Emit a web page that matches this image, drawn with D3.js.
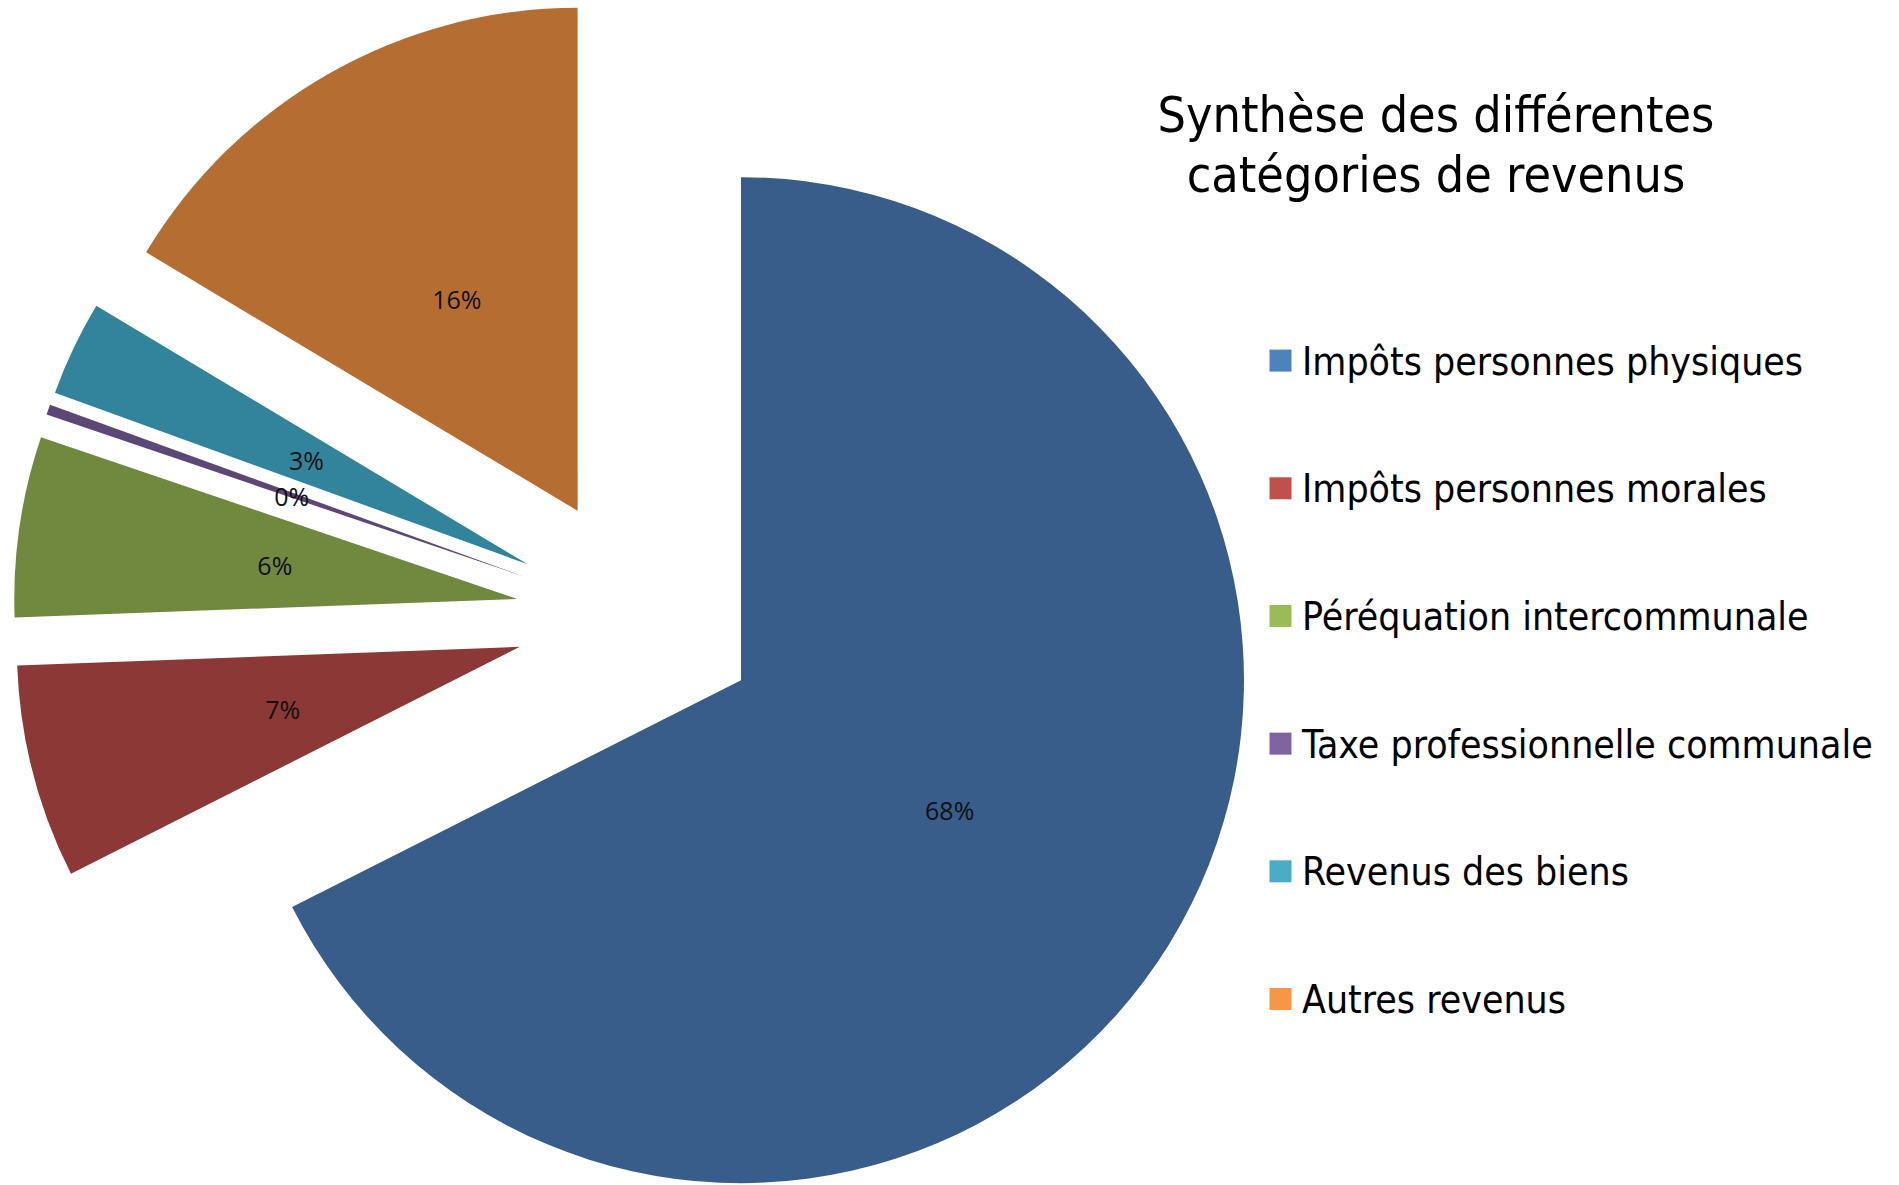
<!DOCTYPE html>
<html>
<head>
<meta charset="utf-8">
<script src="https://cdn.jsdelivr.net/npm/d3@7"></script>
<style>
  html, body { margin: 0; padding: 0; background: #ffffff; }
  svg { display: block; }
</style>
</head>
<body>
<svg id="chart" width="1899" height="1185"></svg>
<script>
// ---- data ----
const categories = [
  "Impôts personnes physiques",
  "Impôts personnes morales",
  "Péréquation intercommunale",
  "Taxe professionnelle communale",
  "Revenus des biens",
  "Autres revenus"
];
const values = [67.55, 6.86, 5.80, 0.33, 3.05, 16.41]; // percent shares
const titleLines = ["Synthèse des différentes", "catégories de revenus"];
const sliceColors = ["#385D8A", "#8C3836", "#71893F", "#5C4776", "#31849B", "#B66D31"];
const legendColors = ["#4F81BD", "#C0504D", "#9BBB59", "#8064A2", "#4BACC6", "#F79646"];

// ---- layout ----
const W = 1899, H = 1185;
const cx = 637.5, cy = 616.5;
const R = 503;
const explode = 121.5;
const labelR = 245;
const titleFont = "'DejaVu Sans Condensed', 'DejaVu Sans', sans-serif";

const svg = d3.select("#chart");
svg.append("rect").attr("width", W).attr("height", H).attr("fill", "#ffffff");

const total = d3.sum(values);
const pct = d3.format(".0%");

const pie = d3.pie().sort(null).value(d => d);
const arcs = pie(values);
const arc = d3.arc().innerRadius(0).outerRadius(R);
const labelArc = d3.arc().innerRadius(labelR).outerRadius(labelR);

const g = svg.append("g").attr("transform", `translate(${cx},${cy})`);

const slices = g.selectAll("g.slice")
  .data(arcs)
  .enter().append("g")
  .attr("class", "slice")
  .attr("transform", d => {
    const mid = (d.startAngle + d.endAngle) / 2;
    return `translate(${Math.sin(mid) * explode},${-Math.cos(mid) * explode})`;
  });

slices.append("path")
  .attr("d", arc)
  .attr("fill", (d, i) => sliceColors[i]);

slices.append("text")
  .attr("transform", d => `translate(${labelArc.centroid(d)})`)
  .attr("text-anchor", "middle")
  .attr("dy", "0.45em")
  .style("font-family", "'Open Sans', 'Noto Sans', sans-serif")
  .style("font-size", "25px")
  .attr("fill", "#111111")
  .text(d => pct(d.data / total));

// ---- fit helper ----
function fitSize(sel, target) {
  sel.style("font-size", "100px");
  const len = sel.node().getComputedTextLength();
  return 100 * target / len;
}

// ---- title ----
const title = svg.append("g");
const t1 = title.append("text")
  .attr("x", 1436).attr("y", 132)
  .attr("text-anchor", "middle")
  .style("font-family", titleFont)
  .attr("fill", "#000000")
  .text(titleLines[0]);
const tSize = fitSize(t1, 557);
t1.style("font-size", tSize + "px");
title.append("text")
  .attr("x", 1436).attr("y", 192)
  .attr("text-anchor", "middle")
  .style("font-family", titleFont)
  .style("font-size", tSize + "px")
  .attr("fill", "#000000")
  .text(titleLines[1]);

// ---- legend ----
const legend = svg.append("g");
const rowY = d3.scaleLinear().domain([0, categories.length - 1]).range([360.6, 999]);
const probe = legend.append("text")
  .style("font-family", titleFont)
  .text(categories[3]);
const lSize = fitSize(probe, 571);
probe.remove();

const rows = legend.selectAll("g.row")
  .data(categories)
  .enter().append("g")
  .attr("class", "row")
  .attr("transform", (d, i) => `translate(0,${rowY(i)})`);

rows.append("rect")
  .attr("x", 1269.5).attr("y", -11)
  .attr("width", 22).attr("height", 22)
  .attr("fill", (d, i) => legendColors[i]);

rows.append("text")
  .attr("x", 1302).attr("y", 0)
  .attr("dy", "0.36em")
  .style("font-family", titleFont)
  .style("font-size", lSize + "px")
  .attr("fill", "#000000")
  .text(d => d);
</script>
</body>
</html>
